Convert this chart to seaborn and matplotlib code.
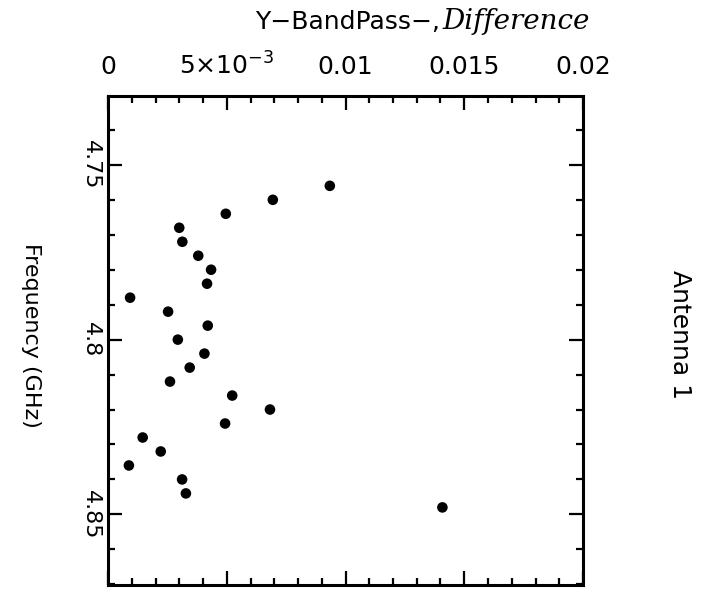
import matplotlib
matplotlib.use("Agg")
import matplotlib.pyplot as plt
import seaborn as sns
import pandas as pd
from matplotlib.ticker import MultipleLocator, FixedLocator, FixedFormatter

# ---- data ----
frequency_ghz = [4.756, 4.760, 4.764, 4.768, 4.772, 4.776, 4.780, 4.784,
                 4.788, 4.792, 4.796, 4.800, 4.804, 4.808, 4.812, 4.816,
                 4.820, 4.824, 4.828, 4.832, 4.836, 4.840, 4.844, 4.848]
difference = [0.00934, 0.00694, 0.00496, 0.00300, 0.00313, 0.00380, 0.00434, 0.00417,
              0.00093, 0.00253, 0.00420, 0.00294, 0.00406, 0.00344, 0.00261, 0.00523,
              0.00682, 0.00493, 0.00146, 0.00222, 0.00088, 0.00312, 0.00328, 0.01408]
x_ticks = [0, 0.005, 0.01, 0.015, 0.02]
x_tick_labels = ["0", r"5$\times$10$^{-3}$", "0.01", "0.015", "0.02"]
y_ticks = [4.75, 4.8, 4.85]
y_tick_labels = ["4.75", "4.8", "4.85"]

df = pd.DataFrame({"freq": frequency_ghz, "diff": difference})

sns.set_theme(style="ticks")
plt.rcParams["font.family"] = ["DejaVu Sans"]
plt.rcParams["text.color"] = "black"
plt.rcParams["axes.labelcolor"] = "black"
plt.rcParams["xtick.color"] = "black"
plt.rcParams["ytick.color"] = "black"

fig = plt.figure(figsize=(7.11, 5.93), dpi=100)
ax = fig.add_axes([108 / 711, 1 - 585 / 593, 475 / 711, 489 / 593])

sns.scatterplot(data=df, x="diff", y="freq", ax=ax, color="black",
                s=58, edgecolor="none", linewidth=0, legend=False)

ax.set_xlim(0, 0.02)
ax.set_ylim(4.8702, 4.7303)

ax.xaxis.set_major_locator(FixedLocator(x_ticks))
ax.xaxis.set_major_formatter(FixedFormatter(x_tick_labels))
ax.xaxis.set_minor_locator(MultipleLocator(0.001))
ax.yaxis.set_major_locator(FixedLocator(y_ticks))
ax.yaxis.set_major_formatter(FixedFormatter(y_tick_labels))
ax.yaxis.set_minor_locator(MultipleLocator(0.01))

ax.xaxis.tick_top()
ax.tick_params(axis="both", which="both", direction="in", top=True, bottom=True,
               left=True, right=True, color="black", labelcolor="black")
ax.tick_params(axis="x", which="both", labeltop=True, labelbottom=False)
ax.tick_params(axis="y", which="both", labelleft=True, labelright=False)
ax.tick_params(which="major", length=10, width=1.6)
ax.tick_params(which="minor", length=5, width=1.6)
ax.tick_params(axis="x", which="major", labelsize=18, pad=12)
ax.tick_params(axis="y", which="major", labelsize=16, pad=5)
for lbl in ax.get_yticklabels():
    lbl.set_rotation(-90)
    lbl.set_va("center")
    lbl.set_ha("right")

for sp in ax.spines.values():
    sp.set_visible(True)
    sp.set_linewidth(2.2)
    sp.set_color("black")

ax.set_xlabel("")
ax.set_ylabel("")

fig.text(31 / 711, 1 - 335 / 593, "Frequency (GHz)", rotation=-90,
         ha="center", va="center", fontsize=16, color="black")
fig.text(680 / 711, 1 - 335 / 593, "Antenna 1", rotation=-90,
         ha="center", va="center", fontsize=18, color="black")
fig.text(440 / 711, 1 - 29 / 593, "Y\u2212BandPass\u2212,", ha="right",
         va="baseline", fontsize=18, color="black")
fig.text(442 / 711, 1 - 29 / 593, "Difference", ha="left", va="baseline",
         fontsize=20, family="DejaVu Serif", style="italic", color="black")

fig.savefig("out.png", dpi=100, facecolor="white")
